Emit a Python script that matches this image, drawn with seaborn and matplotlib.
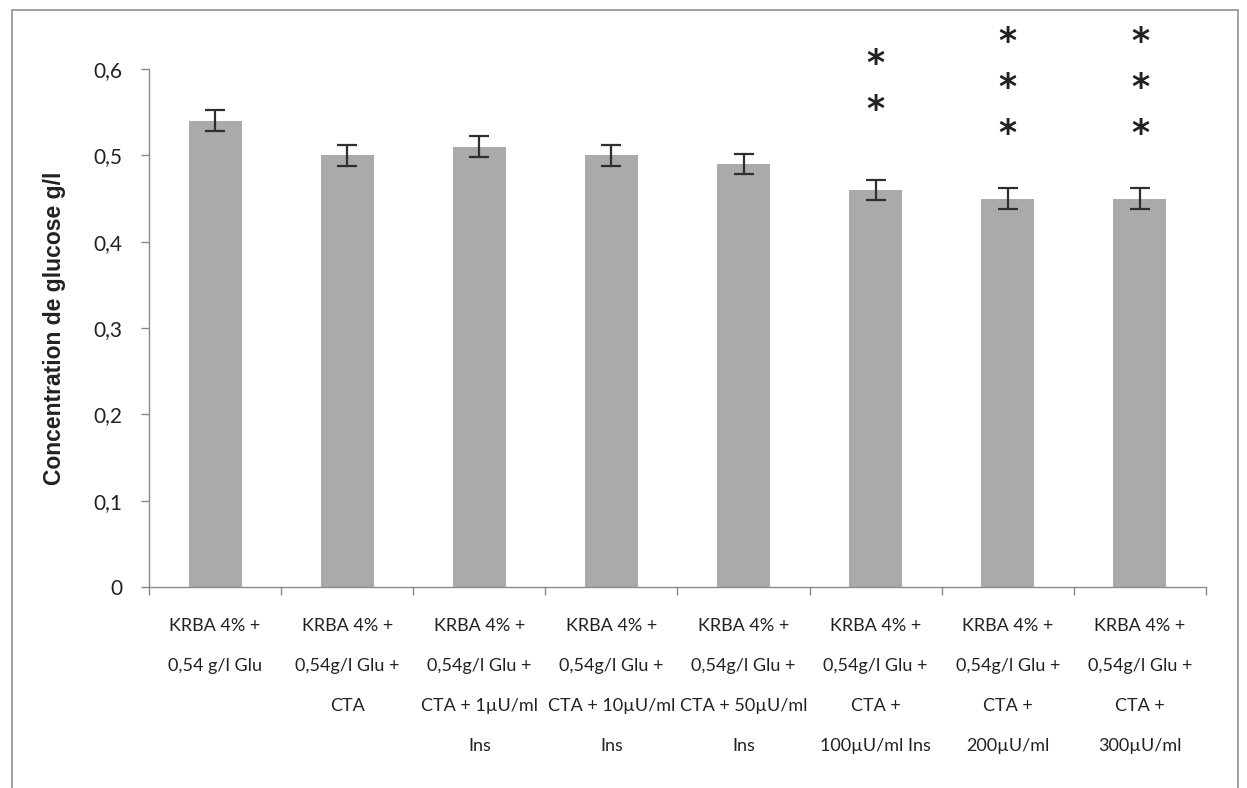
import matplotlib
matplotlib.use("Agg")
import matplotlib.pyplot as plt
from matplotlib.patches import Rectangle
import numpy as np
import pandas as pd
import seaborn as sns

# Glucose concentration per incubation condition
conditions = [
    "KRBA 4% +\n0,54 g/l Glu",
    "KRBA 4% +\n0,54g/l Glu +\nCTA",
    "KRBA 4% +\n0,54g/l Glu +\nCTA + 1µU/ml\nIns",
    "KRBA 4% +\n0,54g/l Glu +\nCTA + 10µU/ml\nIns",
    "KRBA 4% +\n0,54g/l Glu +\nCTA + 50µU/ml\nIns",
    "KRBA 4% +\n0,54g/l Glu +\nCTA +\n100µU/ml Ins",
    "KRBA 4% +\n0,54g/l Glu +\nCTA +\n200µU/ml",
    "KRBA 4% +\n0,54g/l Glu +\nCTA +\n300µU/ml",
]
glucose = [0.54, 0.50, 0.51, 0.50, 0.49, 0.46, 0.45, 0.45]
sem = [0.012, 0.012, 0.012, 0.012, 0.012, 0.012, 0.012, 0.012]
significance = ["", "", "", "", "", "**", "***", "***"]

y_ticks = [0, 0.1, 0.2, 0.3, 0.4, 0.5, 0.6]
y_tick_labels = ["0", "0,1", "0,2", "0,3", "0,4", "0,5", "0,6"]

df = pd.DataFrame({"condition": conditions, "glucose": glucose})

sns.set_theme(style="white")
plt.rcParams["font.family"] = ["Lato", "DejaVu Sans"]

fig = plt.figure(figsize=(12.47, 7.88), dpi=100)
ax = fig.add_axes([0.1195, 0.2551, 0.8476, 0.6573])

sns.barplot(data=df, x="condition", y="glucose", color="#a9aaac",
            saturation=1, width=0.4, ax=ax, errorbar=None)
for p in ax.patches:
    p.set_edgecolor("none")

x = np.arange(len(conditions))
ax.errorbar(x, glucose, yerr=sem, fmt="none", ecolor="#2e2e2e",
            elinewidth=1.6, capsize=7, capthick=1.6, zorder=5)

# significance asterisks stacked above the bars
star_step = 0.0533
star_base = [0, 0, 0, 0, 0, 0.553, 0.525, 0.525]
for xi, marks, base in zip(x, significance, star_base):
    for k in range(len(marks)):
        ax.text(xi, base + k * star_step, "*", ha="center", va="center",
                fontsize=25, fontweight="bold", color="#222222",
                family="DejaVu Sans", clip_on=False)

ax.set_xlim(-0.5, len(conditions) - 0.5)
ax.set_ylim(0, 0.6)
ax.set_yticks(y_ticks)
ax.set_yticklabels(y_tick_labels, fontsize=15, color="#222222")

# category boundaries carry the tick marks, labels sit at the bar centres
ax.set_xticks(np.arange(-0.5, len(conditions), 1.0))
ax.set_xticklabels([])
ax.set_xticks(x, minor=True)
ax.set_xticklabels(conditions, minor=True, fontsize=13, color="#222222",
                   linespacing=2.87, va="top")
ax.tick_params(axis="x", which="major", direction="out", length=6,
               width=1, color="#888888", bottom=True)
ax.tick_params(axis="x", which="minor", length=0, pad=22)
ax.tick_params(axis="y", direction="out", length=6, width=1,
               color="#888888", left=True, pad=13)

for side in ["top", "right"]:
    ax.spines[side].set_visible(False)
for side in ["left", "bottom"]:
    ax.spines[side].set_color("#8a8a8a")
    ax.spines[side].set_linewidth(1.0)

ax.set_xlabel("")
ax.set_ylabel("Concentration de glucose g/l", fontsize=16.5,
              fontweight="bold", family=["Liberation Sans", "DejaVu Sans"],
              color="#222222", labelpad=20)

# outer chart frame
fig.patches.append(Rectangle((12 / 1247, -0.2), 1226 / 1247, 1.2 - 10 / 788,
                             transform=fig.transFigure, fill=False,
                             edgecolor="#9a9a9a", linewidth=1.3))

fig.savefig("out.png", dpi=100, facecolor="white")
